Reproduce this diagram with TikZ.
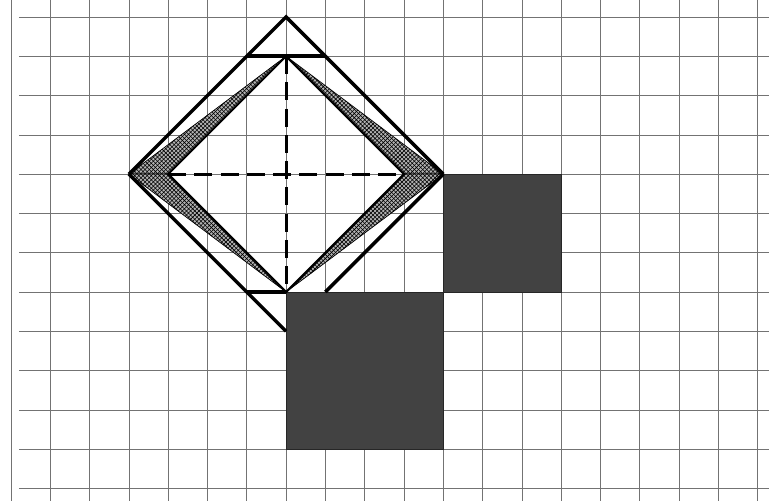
\documentclass[tikz,border=0pt]{standalone}
\usetikzlibrary{patterns}
\begin{document}
\begin{tikzpicture}[
  gridline/.style={draw=black!55, line width=0.4pt},
  edge/.style={draw=black, line width=2.5pt, line join=miter},
  inner/.style={draw=black, line width=1.5pt, line join=miter},
  fold/.style={draw=black, line width=2.1pt, dash pattern=on 13pt off 6pt},
  band/.style={preaction={fill=black!30}, pattern=crosshatch, pattern color=black, draw=black, line width=0.5pt},
  block/.style={fill=black!74, draw=black!85, line width=0.5pt}
]
\useasboundingbox (-0.28,0.43) rectangle (19.29,-12.32);

% squared paper
\foreach \k in {0,...,19} \draw[gridline] (\k,0.43) -- (\k,-12.32);
\foreach \j in {0,...,12} \draw[gridline] (0.2,-\j) -- (19.29,-\j);

% corners of the outer and inner diamonds
\coordinate (apex) at (7,0);
\coordinate (left) at (3,-4);
\coordinate (right) at (11,-4);
\coordinate (bottom) at (7,-8);
\coordinate (itop) at (7,-1);
\coordinate (ileft) at (4,-4);
\coordinate (iright) at (10,-4);
\coordinate (ibottom) at (7,-7);
\coordinate (tl) at (6,-1);
\coordinate (tr) at (8,-1);
\coordinate (bl) at (6,-7);
\coordinate (br) at (8,-7);

% squares on the legs
\path[block] (7,-7) rectangle (11,-11);
\path[block] (11,-4) rectangle (14,-7);

% hatched strips
\path[band] (left) -- (itop) -- (ileft) -- cycle;
\path[band] (left) -- (ileft) -- (ibottom) -- cycle;
\path[band] (itop) -- (right) -- (iright) -- cycle;
\path[band] (iright) -- (right) -- (ibottom) -- cycle;

% folds
\draw[fold] (itop) -- (ibottom);
\draw[fold] (ileft) -- (iright);

% outlines
\draw[inner] (itop) -- (ileft) -- (ibottom) -- (iright) -- cycle;
\draw[edge] (left) -- (apex) -- (right);
\draw[edge] (left) -- (bottom);
\draw[edge] (right) -- (br);
\draw[edge] (tl) -- (tr);
\draw[edge] (bl) -- (ibottom);

\end{tikzpicture}
\end{document}
